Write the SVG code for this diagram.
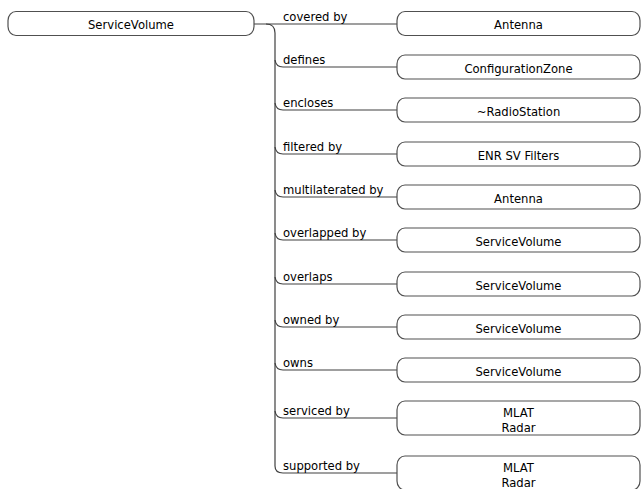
<svg xmlns="http://www.w3.org/2000/svg" width="641" height="489" viewBox="0 0 641 489">
<style>
.n{fill:#fff;stroke:#505050;stroke-width:1.2}
.c{fill:none;stroke:#404040;stroke-width:1.2}
text{font-family:"DejaVu Sans",Verdana,sans-serif;font-size:11.6px;fill:#000}
.t{text-anchor:middle}
</style>
<rect width="641" height="489" fill="#fff"/>
<g id="connectors">
<path class="c" d="M254,24 L397,24"/>
<path class="c" d="M266,24 Q275,24 275,33 L275,466 Q275,473 283,473 L397,473"/>
<path class="c" d="M275,60 Q276,67 283,67 L397,67"/>
<path class="c" d="M275,103 Q276,110 283,110 L397,110"/>
<path class="c" d="M275,147 Q276,154 283,154 L397,154"/>
<path class="c" d="M275,190 Q276,197 283,197 L397,197"/>
<path class="c" d="M275,233 Q276,240 283,240 L397,240"/>
<path class="c" d="M275,277 Q276,284 283,284 L397,284"/>
<path class="c" d="M275,320 Q276,327 283,327 L397,327"/>
<path class="c" d="M275,363 Q276,370 283,370 L397,370"/>
<path class="c" d="M275,411 Q276,418 283,418 L397,418"/>
<text x="283" y="21">covered by</text>
<text x="283" y="64">defines</text>
<text x="283" y="107">encloses</text>
<text x="283" y="151">filtered by</text>
<text x="283" y="194">multilaterated by</text>
<text x="283" y="237">overlapped by</text>
<text x="283" y="281">overlaps</text>
<text x="283" y="324">owned by</text>
<text x="283" y="367">owns</text>
<text x="283" y="415">serviced by</text>
<text x="283" y="470">supported by</text>
</g>
<g id="source"><rect class="n" x="8" y="11.5" width="246" height="24" rx="8" ry="9"/><text class="t" x="131" y="29">ServiceVolume</text></g>
<g id="t1"><rect class="n" x="397" y="11.5" width="243" height="24" rx="8" ry="9"/><text class="t" x="518.5" y="29">Antenna</text></g>
<g id="t2"><rect class="n" x="397" y="55" width="243" height="24" rx="8" ry="9"/><text class="t" x="518.5" y="72.5">ConfigurationZone</text></g>
<g id="t3"><rect class="n" x="397" y="98" width="243" height="24" rx="8" ry="9"/><text class="t" x="518.5" y="115.5">~RadioStation</text></g>
<g id="t4"><rect class="n" x="397" y="142" width="243" height="24" rx="8" ry="9"/><text class="t" x="518.5" y="159.5">ENR SV Filters</text></g>
<g id="t5"><rect class="n" x="397" y="185" width="243" height="24" rx="8" ry="9"/><text class="t" x="518.5" y="202.5">Antenna</text></g>
<g id="t6"><rect class="n" x="397" y="228" width="243" height="24" rx="8" ry="9"/><text class="t" x="518.5" y="245.5">ServiceVolume</text></g>
<g id="t7"><rect class="n" x="397" y="272" width="243" height="24" rx="8" ry="9"/><text class="t" x="518.5" y="289.5">ServiceVolume</text></g>
<g id="t8"><rect class="n" x="397" y="315" width="243" height="24" rx="8" ry="9"/><text class="t" x="518.5" y="332.5">ServiceVolume</text></g>
<g id="t9"><rect class="n" x="397" y="358" width="243" height="24" rx="8" ry="9"/><text class="t" x="518.5" y="375.5">ServiceVolume</text></g>
<g id="t10"><rect class="n" x="397" y="401" width="243" height="34" rx="8" ry="9"/><text class="t" x="518.5" y="417">MLAT</text><text class="t" x="518.5" y="432">Radar</text></g>
<g id="t11"><rect class="n" x="397" y="456" width="243" height="34" rx="8" ry="9"/><text class="t" x="518.5" y="472">MLAT</text><text class="t" x="518.5" y="487">Radar</text></g>
</svg>
